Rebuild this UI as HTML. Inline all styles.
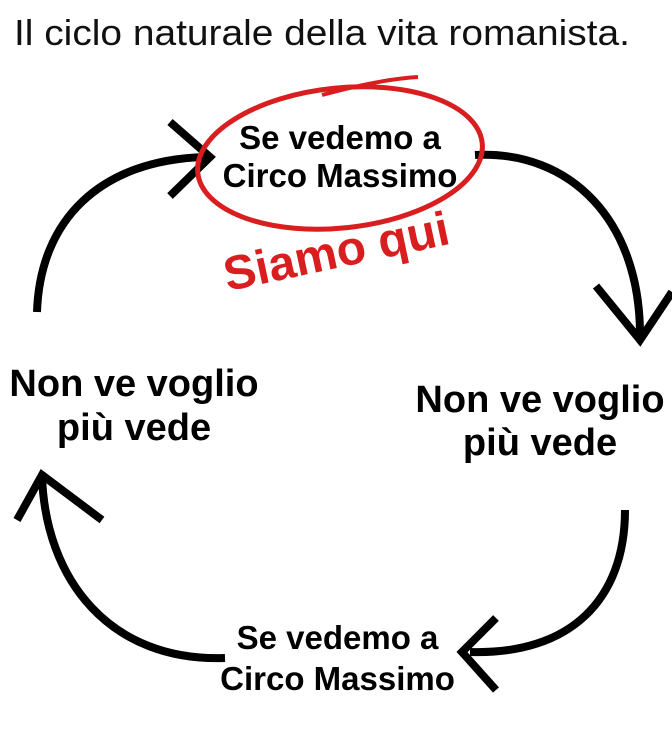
<!DOCTYPE html>
<html><head><style>
body{margin:0;width:672px;height:740px;background:#fff;overflow:hidden;position:relative;font-family:"Liberation Sans",sans-serif}
.t{position:absolute;font-weight:bold;color:#000;text-align:center;white-space:nowrap}
</style></head><body>
<div style="position:absolute;left:14px;top:12px;font-size:36px;color:#111;white-space:nowrap;transform:scaleX(1.08);transform-origin:left top">Il ciclo naturale della vita romanista.</div>
<svg width="672" height="740" style="position:absolute;left:0;top:0" fill="none" stroke="#000" stroke-width="8" stroke-linecap="butt">
<path d="M37 312 C 40 220, 100 160, 205 157"/>
<path d="M170 122 L210 157 L170 196"/>
<path d="M475 155 C 570 150, 640 220, 640 335"/>
<path d="M596 286 L640 340 L672 292"/>
<path d="M625 510 C 625 600, 570 655, 470 652"/>
<path d="M496 618 L462 652 L496 690"/>
<path d="M225 658 C 110 662, 45 580, 42 475"/>
<path d="M17 520 L42 475 L102 520"/>
<ellipse cx="340" cy="158" rx="143" ry="70" transform="rotate(-6 340 158)" stroke="#d81e1e" stroke-width="5"/>
<path d="M322 95 C 370 82, 400 78, 418 77" stroke="#d81e1e" stroke-width="4"/>
</svg>
<div class="t" style="left:190px;top:119px;width:300px;font-size:33px;line-height:38px">Se vedemo a<br>Circo Massimo</div>
<div class="t" style="left:230px;top:248px;font-size:48px;color:#d81e1e;transform:rotate(-12deg);transform-origin:left bottom">Siamo qui</div>
<div class="t" style="left:0px;top:362px;width:268px;font-size:38px;line-height:44px">Non ve voglio<br>più vede</div>
<div class="t" style="left:408px;top:379px;width:264px;font-size:38px;line-height:43px">Non ve voglio<br>più vede</div>
<div class="t" style="left:205px;top:617px;width:265px;font-size:33px;line-height:41px">Se vedemo a<br>Circo Massimo</div>
</body></html>
